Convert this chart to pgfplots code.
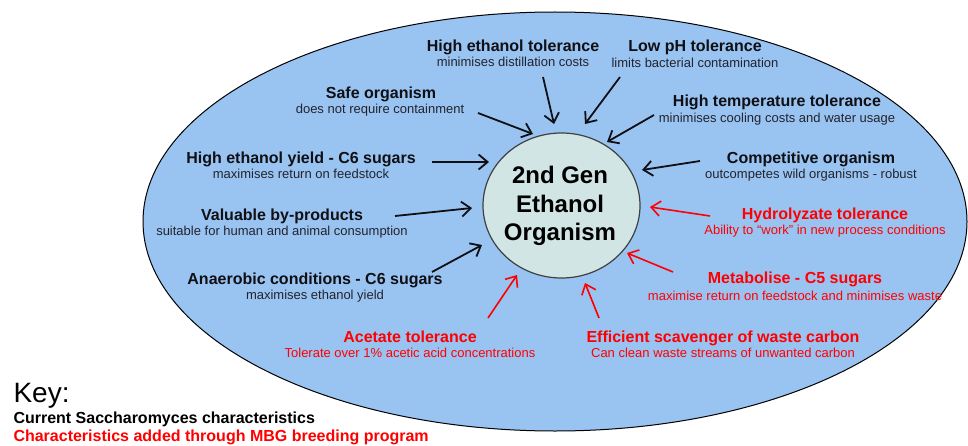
\documentclass[border=0pt]{standalone}
\usepackage{pgfplots}
\pgfplotsset{compat=1.18}
\usepackage{fontspec}
\setmainfont{Liberation Sans}
\usetikzlibrary{arrows.meta}
\definecolor{outerblue}{RGB}{153,196,242}
\definecolor{innerfill}{RGB}{208,229,228}
\definecolor{txtdark}{RGB}{15,15,20}
\definecolor{subdark}{RGB}{35,35,45}
\definecolor{myred}{RGB}{255,0,0}
\newcommand{\ttl}[1]{{\fontsize{16bp}{19bp}\selectfont\bfseries #1}}
\newcommand{\sbt}[1]{{\fontsize{13bp}{15bp}\selectfont #1}}
\begin{document}
\begin{tikzpicture}
\begin{axis}[
  scale only axis, width=968bp, height=446bp,
  xmin=0, xmax=968, ymin=0, ymax=446, y dir=reverse,
  hide axis, clip=false,
  every node/.style={inner sep=0pt, outer sep=0pt},
  blk/.style={txtdark, line width=1.8bp, -{Straight Barb[length=9bp,width=15bp,line width=1.8bp]}},
  rd/.style={myred, line width=1.6bp, -{Straight Barb[length=9bp,width=15bp,line width=1.6bp]}},
]
% outer and inner ellipses
\draw[fill=outerblue, draw=black, line width=1bp] (axis cs:555,221.5) ellipse [x radius=412bp, y radius=209.5bp];
\draw[fill=innerfill, draw=black!75, line width=1.2bp] (axis cs:561.5,205.5) ellipse [x radius=78.5bp, y radius=72.5bp];

% black arrows
\addplot[blk] coordinates {(432,162) (489,162)};
\addplot[blk] coordinates {(395,216) (472,208)};
\addplot[blk] coordinates {(432,272) (482,245)};
\addplot[blk] coordinates {(478,113) (533,134)};
\addplot[blk] coordinates {(543,77) (554,124)};
\addplot[blk] coordinates {(620,77) (585,124)};
\addplot[blk] coordinates {(654,115) (607,142)};
\addplot[blk] coordinates {(700,161) (642,170)};
% red arrows
\addplot[rd] coordinates {(710,216) (650,207)};
\addplot[rd] coordinates {(673,272) (627,253)};
\addplot[rd] coordinates {(599,318) (585,283)};
\addplot[rd] coordinates {(488,318) (517,275)};

% centre text
\node[anchor=base, text=black] at (axis cs:560,183) {\fontsize{24bp}{28bp}\selectfont\bfseries 2nd Gen};
\node[anchor=base, text=black] at (axis cs:560,212) {\fontsize{24bp}{28bp}\selectfont\bfseries Ethanol};
\node[anchor=base, text=black] at (axis cs:560,240) {\fontsize{24bp}{28bp}\selectfont\bfseries Organism};

% black labels
\node[anchor=base, text=txtdark] at (axis cs:513,52) {\ttl{High ethanol tolerance}};
\node[anchor=base, text=subdark] at (axis cs:513,67) {\sbt{minimises distillation costs}};
\node[anchor=base, text=txtdark] at (axis cs:695,52) {\ttl{Low pH tolerance}};
\node[anchor=base, text=subdark] at (axis cs:695,68) {\sbt{limits bacterial contamination}};
\node[anchor=base, text=txtdark] at (axis cs:381,99) {\ttl{Safe organism}};
\node[anchor=base, text=subdark] at (axis cs:380,114) {\sbt{does not require containment}};
\node[anchor=base, text=txtdark] at (axis cs:777,107) {\ttl{High temperature tolerance}};
\node[anchor=base, text=subdark] at (axis cs:777,123) {\sbt{minimises cooling costs and water usage}};
\node[anchor=base, text=txtdark] at (axis cs:301,163) {\ttl{High ethanol yield - C6 sugars}};
\node[anchor=base, text=subdark] at (axis cs:301,178) {\sbt{maximises return on feedstock}};
\node[anchor=base, text=txtdark] at (axis cs:811,163) {\ttl{Competitive organism}};
\node[anchor=base, text=subdark] at (axis cs:811,178) {\sbt{outcompetes wild organisms - robust}};
\node[anchor=base, text=txtdark] at (axis cs:282,220) {\ttl{Valuable by-products}};
\node[anchor=base, text=subdark] at (axis cs:282,235) {\sbt{suitable for human and animal consumption}};
\node[anchor=base, text=txtdark] at (axis cs:315,284) {\ttl{Anaerobic conditions - C6 sugars}};
\node[anchor=base, text=subdark] at (axis cs:315,299) {\sbt{maximises ethanol yield}};

% red labels
\node[anchor=base, text=myred] at (axis cs:825,219) {\ttl{Hydrolyzate tolerance}};
\node[anchor=base, text=myred] at (axis cs:825,234) {\sbt{Ability to \textquotedblleft work\textquotedblright\ in new process conditions}};
\node[anchor=base, text=myred] at (axis cs:795,283) {\ttl{Metabolise - C5 sugars}};
\node[anchor=base, text=myred] at (axis cs:795,300) {\sbt{maximise return on feedstock and minimises waste}};
\node[anchor=base, text=myred] at (axis cs:410,342) {\ttl{Acetate tolerance}};
\node[anchor=base, text=myred] at (axis cs:410,357) {\sbt{Tolerate over 1\% acetic acid concentrations}};
\node[anchor=base, text=myred] at (axis cs:723,342) {\ttl{Efficient scavenger of waste carbon}};
\node[anchor=base, text=myred] at (axis cs:723,357) {\sbt{Can clean waste streams of unwanted carbon}};

% key
\node[anchor=base west, text=black] at (axis cs:10,402) {\fontsize{28bp}{32bp}\selectfont Key:};
\node[anchor=base west, text=black] at (axis cs:10,423) {\fontsize{16bp}{19bp}\selectfont\bfseries Current Saccharomyces characteristics};
\node[anchor=base west, text=myred] at (axis cs:10,441) {\fontsize{16bp}{19bp}\selectfont\bfseries Characteristics added through MBG breeding program};
\end{axis}
\pgfresetboundingbox
\path[use as bounding box] (current axis.south west) rectangle (current axis.north east);
\end{tikzpicture}
\end{document}
